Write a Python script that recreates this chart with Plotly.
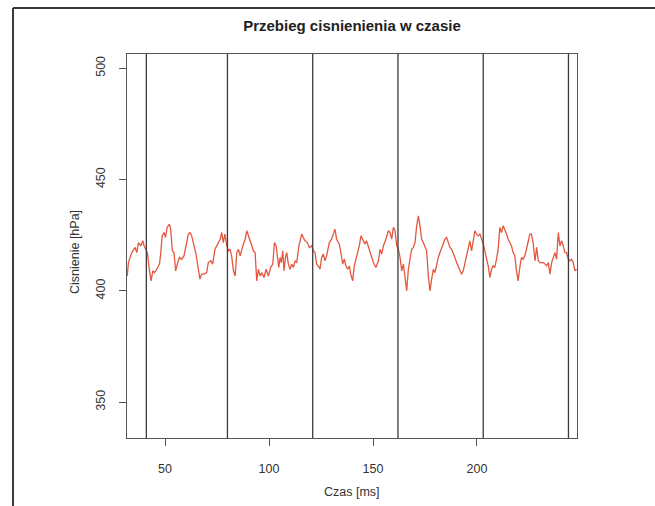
import plotly.graph_objects as go

# ---- data ----
time_ms = [31.8, 32.4, 34.0, 35.6, 36.4, 37.2, 38.3, 39.3, 39.9, 40.9, 41.5, 42.5, 43.3, 44.1, 44.9,
           46.0, 47.3, 47.9, 48.6, 49.5, 50.2, 51.0, 52.1, 52.7, 53.5, 54.3, 55.1, 55.9, 56.9, 58.0,
           59.1, 60.1, 61.2, 62.0, 62.8, 63.6, 64.9, 66.0, 66.8, 67.6, 68.8, 70.0, 70.8, 72.0, 72.9,
           74.0, 75.2, 76.5, 77.3, 78.0, 78.8, 79.7, 80.5, 81.3, 82.1, 82.9, 83.7, 84.5, 85.3, 86.1,
           87.4, 88.5, 89.3, 90.1, 90.9, 91.7, 92.5, 93.3, 94.1, 94.9, 95.7, 96.5, 97.6, 98.6, 99.7,
           100.8, 101.8, 102.6, 103.4, 104.0, 104.7, 105.3, 105.9, 106.6, 107.2, 107.9, 108.5, 109.3,
           110.1, 110.9, 111.7, 112.5, 113.3, 114.4, 115.7, 116.5, 117.3, 118.4, 119.4, 120.5, 121.3,
           122.1, 122.9, 124.2, 124.5, 125.3, 126.1, 126.9, 127.7, 129.0, 130.1, 130.9, 131.7, 132.5,
           133.8, 134.6, 135.4, 136.2, 137.0, 137.8, 138.6, 139.3, 140.2, 141.0, 141.8, 142.5, 143.4,
           144.2, 145.3, 146.2, 146.9, 147.8, 148.6, 149.4, 150.2, 151.4, 152.6, 153.4, 154.2, 155.0,
           156.2, 157.4, 158.2, 159.0, 159.8, 160.6, 161.4, 162.2, 163.0, 163.8, 164.6, 165.4, 166.2,
           167.0, 167.8, 168.6, 169.4, 170.2, 171.0, 171.8, 172.6, 173.4, 174.2, 175.0, 175.8, 176.6,
           177.4, 178.2, 179.0, 179.8, 180.6, 181.4, 182.2, 183.5, 184.6, 185.4, 186.2, 187.0, 187.8,
           188.6, 189.4, 190.2, 191.5, 192.6, 193.4, 194.2, 195.0, 195.8, 196.6, 197.4, 198.2, 199.0,
           199.8, 200.6, 201.4, 202.2, 203.3, 204.3, 205.4, 206.2, 207.0, 207.8, 208.6, 209.4, 210.2,
           211.0, 211.8, 212.6, 213.4, 214.2, 215.0, 215.8, 216.6, 217.4, 218.2, 219.0, 219.8, 220.6,
           221.4, 222.2, 223.0, 223.8, 224.6, 225.4, 226.2, 227.0, 227.9, 228.7, 229.5, 230.3, 231.1,
           231.9, 232.7, 233.5, 234.3, 235.1, 235.9, 236.7, 237.5, 238.3, 239.1, 239.9, 240.7, 241.5,
           242.3, 243.1, 243.9, 244.7, 245.5, 246.3, 247.1, 247.9]
pressure_hpa = [406.7, 412.7, 417.2, 419.5, 417.2, 421.7, 420.2, 422.5, 420.2, 418.7, 417.2, 409.0, 404.5, 409.0, 408.2,
                409.7, 412.0, 416.5, 424.7, 426.2, 424.0, 428.5, 430.0, 427.7, 418.0, 417.2, 409.0, 412.0, 415.0, 414.2,
                415.7, 420.2, 425.5, 426.2, 424.7, 421.7, 416.5, 409.7, 405.3, 407.5, 407.5, 408.2, 412.7, 413.5, 412.0,
                418.7, 421.0, 423.2, 426.2, 421.7, 425.5, 420.2, 418.0, 418.7, 415.0, 409.0, 406.7, 417.2, 418.7, 415.7,
                420.2, 423.2, 427.0, 424.7, 421.7, 420.2, 418.0, 417.2, 404.5, 409.7, 406.7, 408.2, 406.0, 409.7, 406.7,
                410.5, 412.0, 421.7, 420.2, 415.7, 410.5, 415.0, 412.7, 418.0, 409.0, 415.0, 417.2, 412.0,
                409.7, 412.0, 410.5, 413.5, 412.7, 420.2, 425.5, 424.0, 422.5, 421.7, 419.5, 420.2, 418.0,
                417.2, 412.0, 410.5, 409.7, 415.0, 416.5, 413.5, 415.7, 421.7, 423.2, 425.5, 427.7, 423.2,
                421.0, 417.2, 412.0, 414.2, 411.2, 409.7, 411.2, 407.5, 404.5, 411.2, 414.2, 417.2, 420.2,
                424.7, 422.5, 421.0, 422.5, 419.5, 416.5, 415.0, 412.7, 410.5, 413.5, 418.7, 416.5, 420.2,
                423.2, 427.0, 426.2, 423.2, 428.5, 427.0, 420.2, 418.7, 415.0, 409.0, 412.0, 406.7, 400.0,
                409.7, 415.0, 418.7, 419.5, 421.7, 429.2, 433.7, 429.2, 423.2, 421.7, 420.2, 418.0, 406.7,
                400.0, 405.3, 409.7, 408.2, 412.0, 415.0, 417.2, 421.0, 423.2, 424.0, 421.7, 419.5, 418.7,
                417.2, 415.0, 412.7, 409.7, 407.5, 409.0, 412.7, 415.7, 420.2, 422.5, 418.0, 423.2, 427.0,
                425.5, 424.7, 425.5, 423.2, 420.2, 415.7, 411.2, 406.0, 409.7, 411.2, 410.5, 414.2, 418.7,
                428.5, 426.2, 429.2, 427.7, 425.5, 423.2, 421.7, 420.2, 417.2, 415.7, 409.0, 404.5, 410.5,
                415.0, 414.2, 415.7, 418.7, 422.5, 425.5, 425.5, 421.7, 413.5, 419.5, 413.5, 412.7, 412.7,
                412.7, 412.0, 411.2, 412.7, 407.5, 412.7, 415.0, 417.2, 414.2, 426.2, 420.2, 422.5, 420.2,
                417.2, 417.2, 414.2, 413.5, 414.2, 412.7, 409.0, 409.7]
marker_times = [41, 80, 121, 162, 203, 244]
x_ticks = [50, 100, 150, 200]
y_ticks = [350, 400, 450, 500]
x_range = [31.7, 248.1]
y_range = [333.9, 506.4]

FONT = "Liberation Sans, Arial, sans-serif"

fig = go.Figure()
fig.add_trace(go.Scatter(x=time_ms, y=pressure_hpa, mode="lines",
                         line=dict(color="#E5573F", width=1.3), showlegend=False,
                         hoverinfo="skip"))

shapes = []
for t in marker_times:
    shapes.append(dict(type="line", xref="x", yref="paper", x0=t, x1=t, y0=0, y1=1,
                       line=dict(color="#3a3a3a", width=1.3), layer="above"))
# outer frame (top and left edges of the picture)
shapes.append(dict(type="line", xref="paper", yref="paper", x0=-0.2533, x1=1.2, y0=1.1198, y1=1.1198,
                   line=dict(color="#3a3a3a", width=2)))
shapes.append(dict(type="line", xref="paper", yref="paper", x0=-0.2533, x1=-0.2533, y0=1.1198, y1=-0.2,
                   line=dict(color="#3a3a3a", width=2)))

axis_common = dict(showgrid=False, zeroline=False, showline=True, mirror=True,
                   linecolor="#555555", linewidth=1, ticks="outside", ticklen=7,
                   tickcolor="#555555", tickfont=dict(family=FONT, size=12.5, color="#333333"))

fig.update_layout(
    width=655, height=506,
    margin=dict(l=127, r=78, t=54, b=68, autoexpand=False),
    paper_bgcolor="white", plot_bgcolor="white",
    title=dict(text="<b>Przebieg cisnienienia w czasie</b>", x=0.5, xref="paper",
               y=1 - 26 / 506, yanchor="middle", xanchor="center",
               font=dict(family=FONT, size=15, color="#222222")),
    xaxis=dict(range=x_range, tickvals=x_ticks, ticklabelstandoff=12, **axis_common),
    yaxis=dict(range=y_range, tickvals=y_ticks, tickangle=-90, ticklabelstandoff=9, **axis_common),
    shapes=shapes,
    annotations=[
        dict(text="Czas [ms]", xref="paper", yref="paper", x=0.5, y=-(492 - 438) / 384,
             xanchor="center", yanchor="middle", showarrow=False,
             font=dict(family=FONT, size=12.5, color="#333333")),
        dict(text="Cisnienie [hPa]", xref="paper", yref="paper", x=-(127 - 75) / 450,
             y=(438 - 252) / 384,
             xanchor="center", yanchor="middle", showarrow=False, textangle=-90,
             font=dict(family=FONT, size=12.5, color="#333333")),
    ],
)

fig.write_html("out.html")
